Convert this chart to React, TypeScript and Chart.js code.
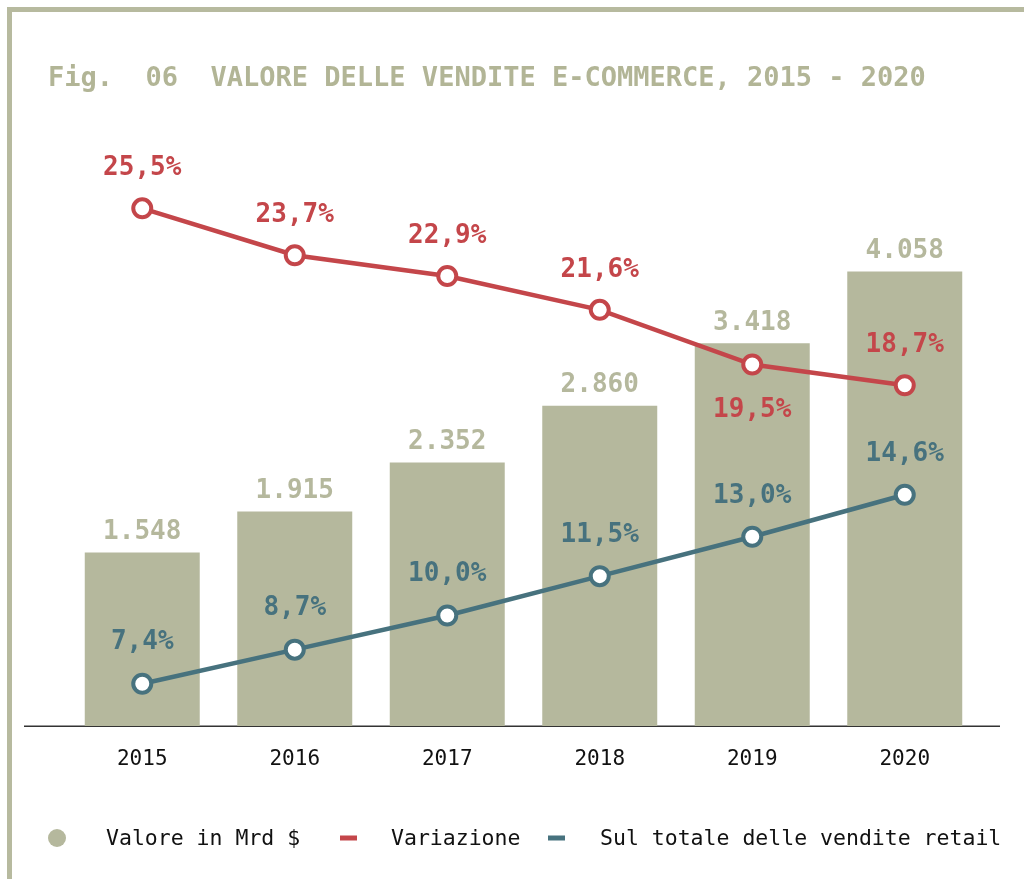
import React, { useEffect, useRef } from 'react';
import { Chart, registerables } from 'chart.js';

Chart.register(...registerables);

const years = ['2015', '2016', '2017', '2018', '2019', '2020'];
const valoreMrd = [1548, 1915, 2352, 2860, 3418, 4058];
const variazione = [25.5, 23.7, 22.9, 21.6, 19.5, 18.7];
const quotaRetail = [7.4, 8.7, 10.0, 11.5, 13.0, 14.6];
const variazioneLabelBelow = [false, false, false, false, true, false];
const seriesNames = ['Valore in Mrd $', 'Variazione', 'Sul totale delle vendite retail'];
const titleText = 'Fig.  06  VALORE DELLE VENDITE E-COMMERCE, 2015 - 2020';

const OLIVE = '#b5b89d';
const FRAME = '#b7ba9f';
const TITLE = '#b2b596';
const RED = '#c4464a';
const TEAL = '#47727e';
const MONO = '"DejaVu Sans Mono", "Liberation Mono", monospace';

const fmtThousands = (v: number) => {
  const k = Math.floor(v / 1000);
  const r = String(v % 1000).padStart(3, '0');
  return k > 0 ? `${k}.${r}` : String(v);
};
const fmtPct = (v: number) => v.toFixed(1).replace('.', ',') + '%';

const decor = {
  id: 'decor',
  beforeDraw(chart: any) {
    const ctx = chart.ctx as CanvasRenderingContext2D;
    ctx.save();
    ctx.fillStyle = '#ffffff';
    ctx.fillRect(0, 0, chart.width, chart.height);
    // frame
    ctx.fillStyle = FRAME;
    ctx.fillRect(7, 7, chart.width - 7, 5);
    ctx.fillRect(7, 7, 5, chart.height - 7);
    // title
    ctx.font = `bold 27px ${MONO}`;
    ctx.fillStyle = TITLE;
    ctx.textBaseline = 'middle';
    ctx.textAlign = 'left';
    ctx.fillText(titleText, 48, 79);
    // legend
    const ly = 839;
    const ds = chart.data.datasets;
    ctx.font = `21.5px ${MONO}`;
    ctx.fillStyle = ds[0].backgroundColor;
    ctx.beginPath();
    ctx.arc(57, ly - 1, 9, 0, Math.PI * 2);
    ctx.fill();
    ctx.fillStyle = '#111';
    ctx.fillText(ds[0].label, 106, ly);
    ctx.fillStyle = ds[1].borderColor;
    ctx.fillRect(340, ly - 3.5, 17, 5);
    ctx.fillStyle = '#111';
    ctx.fillText(ds[1].label, 391, ly);
    ctx.fillStyle = ds[2].borderColor;
    ctx.fillRect(548, ly - 3.5, 17, 5);
    ctx.fillStyle = '#111';
    ctx.fillText(ds[2].label, 600, ly);
    ctx.restore();
  },
  beforeDatasetsDraw(chart: any) {
    const ctx = chart.ctx as CanvasRenderingContext2D;
    const { bottom } = chart.chartArea;
    ctx.save();
    ctx.strokeStyle = '#333333';
    ctx.lineWidth = 1.5;
    ctx.beginPath();
    ctx.moveTo(24, bottom + 0.25);
    ctx.lineTo(1000, bottom + 0.25);
    ctx.stroke();
    ctx.restore();
  },
  afterDatasetsDraw(chart: any) {
    const ctx = chart.ctx as CanvasRenderingContext2D;
    ctx.save();
    ctx.textAlign = 'center';
    ctx.textBaseline = 'middle';
    ctx.font = `bold 26px ${MONO}`;
    const barMeta = chart.getDatasetMeta(0);
    ctx.fillStyle = OLIVE;
    barMeta.data.forEach((el: any, i: number) => {
      ctx.fillText(fmtThousands(valoreMrd[i]), el.x, el.y - 20);
    });
    const redMeta = chart.getDatasetMeta(1);
    ctx.fillStyle = RED;
    redMeta.data.forEach((el: any, i: number) => {
      const dy = variazioneLabelBelow[i] ? 46 : -40;
      ctx.fillText(fmtPct(variazione[i]), el.x, el.y + dy);
    });
    const tealMeta = chart.getDatasetMeta(2);
    ctx.fillStyle = TEAL;
    tealMeta.data.forEach((el: any, i: number) => {
      ctx.fillText(fmtPct(quotaRetail[i]), el.x, el.y - 41);
    });
    ctx.restore();
  },
};

export default function App() {
  const ref = useRef<HTMLCanvasElement>(null);
  useEffect(() => {
    const chart = new Chart(ref.current as HTMLCanvasElement, {
      type: 'bar',
      data: {
        labels: years,
        datasets: [
          {
            type: 'bar',
            label: seriesNames[0],
            data: valoreMrd,
            backgroundColor: OLIVE,
            borderWidth: 0,
            barPercentage: 0.754,
            categoryPercentage: 1,
            yAxisID: 'yBar',
            order: 3,
          },
          {
            type: 'line',
            label: seriesNames[1],
            data: variazione,
            borderColor: RED,
            backgroundColor: RED,
            borderWidth: 4.5,
            pointRadius: 9,
            pointBorderWidth: 4,
            pointBackgroundColor: '#ffffff',
            pointBorderColor: RED,
            tension: 0,
            yAxisID: 'yRed',
            order: 1,
          },
          {
            type: 'line',
            label: seriesNames[2],
            data: quotaRetail,
            borderColor: TEAL,
            backgroundColor: TEAL,
            borderWidth: 4.5,
            pointRadius: 9,
            pointBorderWidth: 4,
            pointBackgroundColor: '#ffffff',
            pointBorderColor: TEAL,
            tension: 0,
            yAxisID: 'yTeal',
            order: 2,
          },
        ] as any,
      },
      options: {
        responsive: false,
        animation: false,
        layout: { padding: { left: 66, right: 43, top: 130, bottom: 93 } },
        plugins: {
          legend: { display: false },
          tooltip: { enabled: false },
          title: { display: false },
        },
        scales: {
          x: {
            grid: { display: false, drawTicks: false },
            border: { display: false },
            ticks: {
              color: '#111111',
              font: { family: MONO, size: 21 },
              padding: 21,
            },
            afterFit: (scale: any) => {
              scale.height = 60;
            },
          },
          yBar: { display: false, min: 0, max: 5321 },
          yRed: { display: false, min: 5.61, max: 28.51 },
          yTeal: { display: false, min: 5.79, max: 28.5 },
        },
      } as any,
      plugins: [decor],
    });
    return () => chart.destroy();
  }, []);
  return (
    <div style={{ position: 'absolute', left: 0, top: 0, width: 1024, height: 879 }}>
      <canvas ref={ref} width={1024} height={879} style={{ display: 'block' }} />
    </div>
  );
}
